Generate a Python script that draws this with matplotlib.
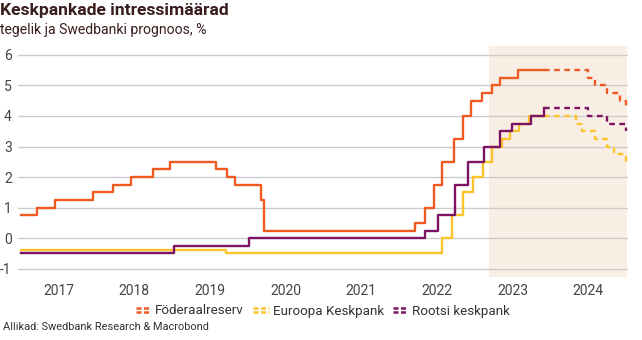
import pandas as pd
import matplotlib
matplotlib.use("Agg")
import matplotlib.pyplot as plt
from matplotlib.lines import Line2D
from matplotlib.legend_handler import HandlerBase

plt.rcParams["font.family"] = ["Liberation Sans Narrow", "Roboto", "DejaVu Sans"]

# ---- andmed (muutuse kuupäev, tase) ----
fed_dates = ["2017-01-01", "2017-03-16", "2017-06-15", "2017-12-14", "2018-03-22",
             "2018-06-14", "2018-09-27", "2018-12-20", "2019-08-01", "2019-09-19",
             "2019-10-31", "2020-03-04", "2020-03-16", "2022-03-17", "2022-05-05",
             "2022-06-16", "2022-07-28", "2022-09-22", "2022-11-03", "2022-12-15",
             "2023-02-02", "2023-03-23", "2023-05-04", "2023-07-27", "2023-12-01"]
fed_rates = [0.75, 1.00, 1.25, 1.50, 1.75, 2.00, 2.25, 2.50, 2.25, 2.00, 1.75, 1.25,
             0.25, 0.50, 1.00, 1.75, 2.50, 3.25, 4.00, 4.50, 4.75, 5.00, 5.25, 5.50, 5.50]
fed_fc_dates = ["2023-12-01", "2024-07-01", "2024-08-01", "2024-10-01", "2024-12-01",
                "2025-01-01"]
fed_fc_rates = [5.50, 5.25, 5.00, 4.75, 4.50, 4.25]

ecb_dates = ["2017-01-01", "2019-09-18", "2022-07-27", "2022-09-14", "2022-11-02",
             "2022-12-21", "2023-02-08", "2023-03-22", "2023-05-10", "2023-06-21",
             "2023-08-02", "2023-09-20", "2023-12-01"]
ecb_rates = [-0.40, -0.50, 0.00, 0.75, 1.50, 2.00, 2.50, 3.00, 3.25, 3.50, 3.75, 4.00, 4.00]
ecb_fc_dates = ["2023-12-01", "2024-05-01", "2024-06-01", "2024-08-01", "2024-10-01",
                "2024-11-01", "2025-01-01"]
ecb_fc_rates = [4.00, 3.75, 3.50, 3.25, 3.00, 2.75, 2.50]

rb_dates = ["2017-01-01", "2019-01-09", "2020-01-08", "2022-05-04", "2022-07-06",
            "2022-09-28", "2022-11-30", "2023-02-15", "2023-05-03", "2023-06-28",
            "2023-09-27", "2023-12-01"]
rb_rates = [-0.50, -0.25, 0.00, 0.25, 0.75, 1.75, 2.50, 3.00, 3.50, 3.75, 4.00, 4.25]
rb_fc_dates = ["2023-12-01", "2024-07-01", "2024-10-01", "2025-01-01"]
rb_fc_rates = [4.25, 4.00, 3.75, 3.50]

series_names = ["Föderaalreserv", "Euroopa Keskpank", "Rootsi keskpank"]
year_labels = ["2017", "2018", "2019", "2020", "2021", "2022", "2023", "2024"]
y_ticks = [-1, 0, 1, 2, 3, 4, 5, 6]
shade_start, shade_end = "2023-03-10", "2025-01-03"

COLORS = ["#ef5a22", "#fcc42c", "#7d1463"]
TEXT = "#3a1d1d"
DASH = (0, (2.4, 1.9))


class TwoLineHandler(HandlerBase):
    # legendi märk: kaks lühikest katkendjoont üksteise all
    def create_artists(self, legend, orig_handle, xdescent, ydescent,
                       width, height, fontsize, trans):
        c = orig_handle.get_color()
        out = []
        for frac in (0.72, 0.28):
            out.append(Line2D([-xdescent, width - xdescent], [height * frac] * 2,
                              color=c, lw=1.8, linestyle=(0, (2.0, 1.0)),
                              transform=trans))
        return out


fig = plt.figure(figsize=(6.42, 3.40), dpi=100)
ax = fig.add_axes([18 / 642, 1 - 277 / 340, 610 / 642, 231 / 340])

ax.axvspan(pd.Timestamp(shade_start), pd.Timestamp(shade_end),
           color="#f9eee4", lw=0, zorder=0)

actual = [(fed_dates, fed_rates), (ecb_dates, ecb_rates), (rb_dates, rb_rates)]
forecast = [(fed_fc_dates, fed_fc_rates), (ecb_fc_dates, ecb_fc_rates),
            (rb_fc_dates, rb_fc_rates)]
handles = []
for (d, v), (fd, fv), col, name in zip(actual, forecast, COLORS, series_names):
    ax.plot(pd.to_datetime(fd), fv, drawstyle="steps-post", color=col,
            lw=1.7, linestyle=DASH, zorder=3)
    h, = ax.plot(pd.to_datetime(d), v, drawstyle="steps-post", color=col,
                 lw=1.7, zorder=3, label=name)
    handles.append(h)

ax.set_ylim(-1.27, 6.29)
ax.set_yticks(y_ticks)
ax.set_yticklabels([str(t) for t in y_ticks])
ax.set_xlim(pd.Timestamp("2016-12-16"), pd.Timestamp("2025-01-09"))
ax.set_xticks([pd.Timestamp(f"{y}-07-01") for y in year_labels])
ax.set_xticklabels(year_labels)

ax.grid(axis="y", color="#cccccc", lw=1)
ax.set_axisbelow(True)
for s in ax.spines.values():
    s.set_visible(False)
ax.tick_params(axis="y", length=0, pad=4.5, labelsize=10, labelcolor="#444444")
ax.tick_params(axis="x", length=0, pad=5, labelsize=10, labelcolor="#444444")

fig.text(0.0, 1 - 3 / 340, "Keskpankade intressimäärad", fontsize=12.6,
         fontweight="bold", color=TEXT, va="top", ha="left")
fig.text(0.0, 1 - 23 / 340, "tegelik ja Swedbanki prognoos, %", fontsize=10.1,
         color=TEXT, va="top", ha="left")
fig.text(3 / 642, 1 - 327 / 340, "Allikad: Swedbank Research & Macrobond",
         fontsize=7.9, color="#333333", va="center", ha="left")

fig.legend(handles, series_names, loc="center", bbox_to_anchor=(323 / 642, 1 - 311 / 340),
           ncol=3, frameon=False, fontsize=9.6, labelcolor="#333333",
           handler_map={Line2D: TwoLineHandler()}, handlelength=1.15,
           handletextpad=0.3, columnspacing=0.7, borderpad=0)

fig.savefig("out.png", dpi=100)
